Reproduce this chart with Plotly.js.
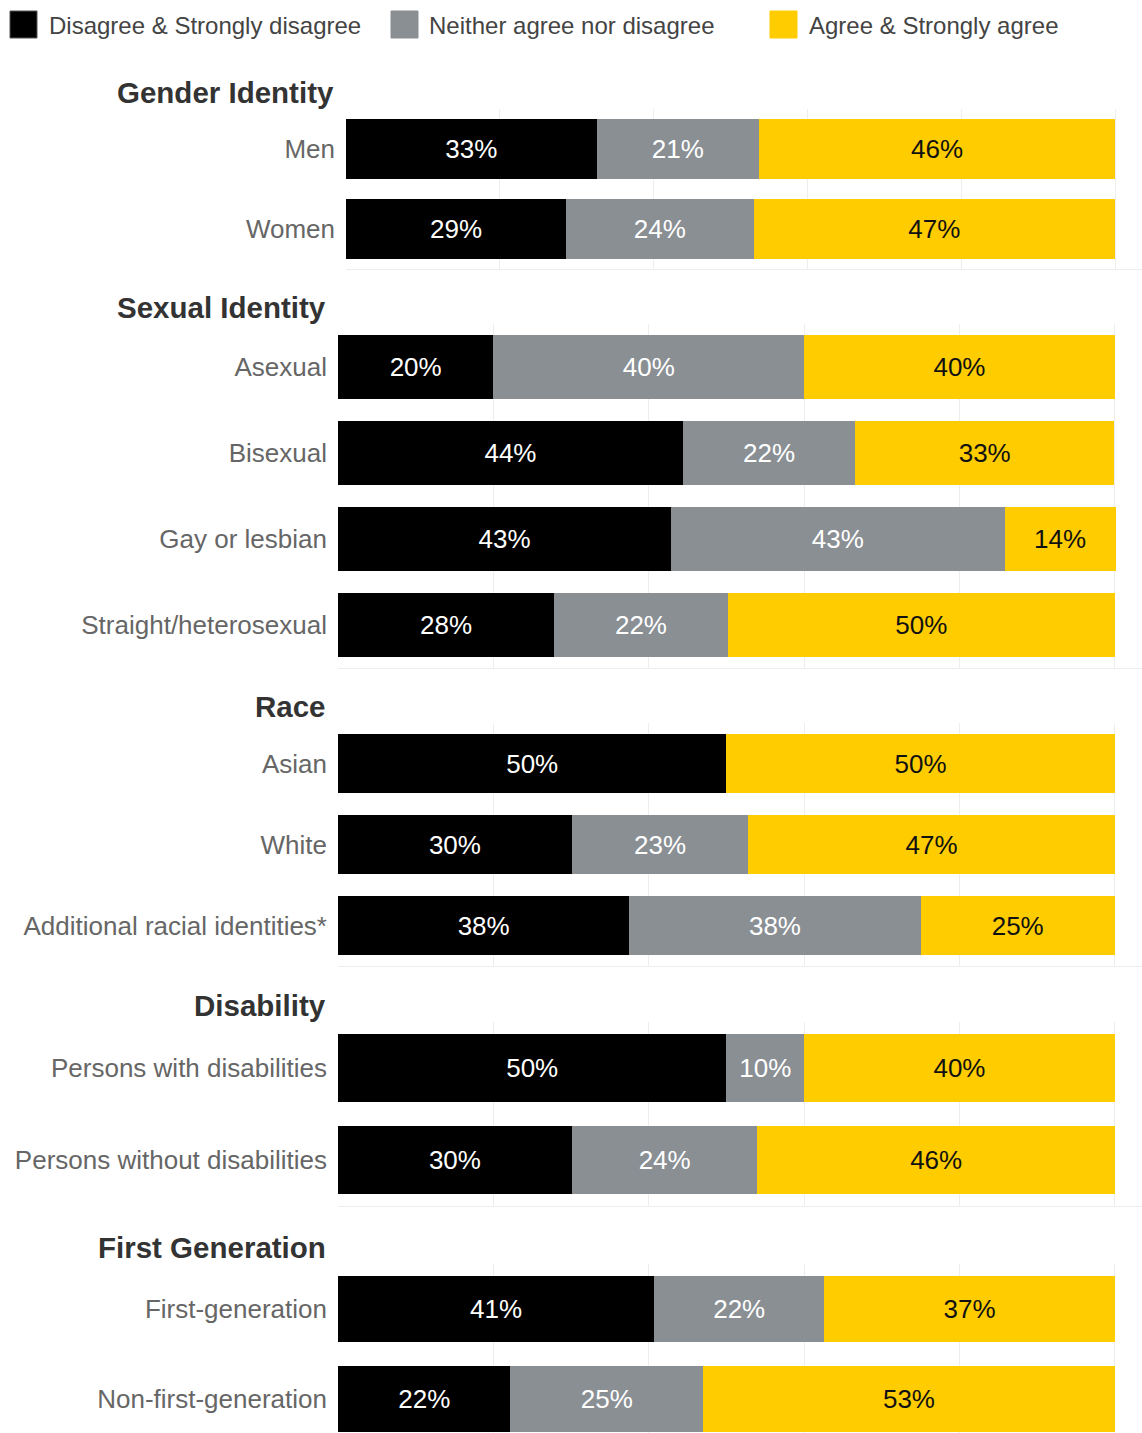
<!DOCTYPE html>
<html>
<head>
<meta charset="utf-8">
<script src="https://cdn.plot.ly/plotly-3.0.1.min.js"></script>
<style>
  html, body { margin: 0; padding: 0; background: #ffffff; }
  #chart { width: 1142px; height: 1433px; }
</style>
</head>
<body>
<div id="chart"></div>
<script>
// ---------- DATA ----------
const seriesNames = ['Disagree & Strongly disagree', 'Neither agree nor disagree', 'Agree & Strongly agree'];

const panelTitles = ['Gender Identity', 'Sexual Identity', 'Race', 'Disability', 'First Generation'];

const genderCats = ['Men', 'Women'];
const genderDisagree = [32.6, 28.6];
const genderNeither  = [21.1, 24.4];
const genderAgree    = [46.3, 47.0];

const sexualCats = ['Asexual', 'Bisexual', 'Gay or lesbian', 'Straight/heterosexual'];
const sexualDisagree = [20.0, 44.4, 42.9, 27.8];
const sexualNeither  = [40.0, 22.2, 42.9, 22.4];
const sexualAgree    = [40.0, 33.3, 14.3, 49.8];

const raceCats = ['Asian', 'White', 'Additional racial identities*'];
const raceDisagree = [50.0, 30.1, 37.5];
const raceNeither  = [0.0, 22.7, 37.5];
const raceAgree    = [50.0, 47.2, 25.0];

const disabilityCats = ['Persons with disabilities', 'Persons without disabilities'];
const disabilityDisagree = [50.0, 30.1];
const disabilityNeither  = [10.0, 23.9];
const disabilityAgree    = [40.0, 46.0];

const firstGenCats = ['First-generation', 'Non-first-generation'];
const firstGenDisagree = [40.7, 22.2];
const firstGenNeither  = [21.9, 24.8];
const firstGenAgree    = [37.4, 53.0];

// ---------- STYLE ----------
const W = 1142, H = 1433;
const colors = ['#000000', '#8a8f94', '#ffcc00'];
const textColors = ['#ffffff', '#ffffff', '#111111'];
const FONT = '"Liberation Sans", Arial, Helvetica, sans-serif';

const panels = [
  { cats: genderCats, vals: [genderDisagree, genderNeither, genderAgree], left: 346, top: 109, step: 80, rows: 2 },
  { cats: sexualCats, vals: [sexualDisagree, sexualNeither, sexualAgree], left: 338, top: 324, step: 86, rows: 4 },
  { cats: raceCats, vals: [raceDisagree, raceNeither, raceAgree], left: 338, top: 723, step: 81, rows: 3 },
  { cats: disabilityCats, vals: [disabilityDisagree, disabilityNeither, disabilityAgree], left: 338, top: 1022, step: 92, rows: 2 },
  { cats: firstGenCats, vals: [firstGenDisagree, firstGenNeither, firstGenAgree], left: 338, top: 1264, step: 90, rows: 2 }
];

const data = [];
const layout = {
  width: W, height: H,
  margin: { l: 0, r: 0, t: 0, b: 0, pad: 0 },
  paper_bgcolor: '#ffffff',
  plot_bgcolor: 'rgba(0,0,0,0)',
  barmode: 'stack',
  bargap: 0.26,
  showlegend: false,
  font: { family: FONT, color: '#666666' },
  annotations: [],
  shapes: []
};

panels.forEach((p, i) => {
  const k = i === 0 ? '' : String(i + 1);
  const xa = 'x' + k, ya = 'y' + k;
  p.vals.forEach((v, s) => {
    data.push({
      type: 'bar',
      orientation: 'h',
      name: seriesNames[s],
      x: v,
      y: p.cats,
      xaxis: xa,
      yaxis: ya,
      marker: { color: colors[s], line: { width: 0 } },
      text: v.map(d => d > 0 ? Math.round(d) + '%' : ''),
      texttemplate: '%{text}',
      textposition: 'inside',
      insidetextanchor: 'middle',
      textangle: 0,
      insidetextfont: { family: FONT, size: 26, color: textColors[s] },
      hoverinfo: 'skip',
      cliponaxis: true
    });
  });
  // plot area in pixels
  const bottomPx = Math.min(H, p.top + p.step * p.rows);
  const visibleRows = (bottomPx - p.top) / p.step;
  layout['xaxis' + k] = {
    domain: [p.left / W, 1],
    anchor: ya,
    range: [0, 103.5],
    tickvals: [0, 20, 40, 60, 80, 100],
    showticklabels: false,
    ticks: '',
    showgrid: true,
    gridcolor: '#eeeeee',
    gridwidth: 1,
    zeroline: false,
    showline: true,
    linecolor: '#eeeeee',
    linewidth: 1,
    fixedrange: true
  };
  layout['yaxis' + k] = {
    domain: [1 - bottomPx / H, 1 - p.top / H],
    anchor: xa,
    type: 'category',
    range: [visibleRows - 0.5, -0.5],
    showgrid: false,
    zeroline: false,
    showline: false,
    ticks: '',
    ticklabelstandoff: 10,
    tickfont: { family: FONT, size: 26, color: '#666666' },
    fixedrange: true
  };
  layout.annotations.push({
    text: panelTitles[i],
    xref: xa + ' domain', yref: ya + ' domain',
    x: 0, y: 1,
    xanchor: 'right', yanchor: 'middle',
    xshift: -10, yshift: 17,
    showarrow: false,
    font: { family: FONT, size: 29.5, color: '#333333', weight: 'bold' }
  });
});

// ---------- LEGEND (drawn manually for large swatches) ----------
const legendItems = [
  { sw: 10, tx: 47 },
  { sw: 391, tx: 427 },
  { sw: 770, tx: 807 }
];
legendItems.forEach((it, s) => {
  layout.shapes.push({
    type: 'rect', xref: 'paper', yref: 'paper',
    x0: it.sw / W, x1: (it.sw + 27) / W,
    y0: 1 - 38 / H, y1: 1 - 11 / H,
    fillcolor: colors[s],
    line: { color: s === 0 ? '#555555' : colors[s], width: 1 }
  });
  layout.annotations.push({
    text: seriesNames[s],
    xref: 'paper', yref: 'paper',
    x: it.tx / W, y: 1 - 25 / H,
    xanchor: 'left', yanchor: 'middle',
    showarrow: false,
    font: { family: FONT, size: 24, color: '#444444' }
  });
});

Plotly.newPlot('chart', data, layout, { displayModeBar: false, staticPlot: true });
</script>
</body>
</html>
